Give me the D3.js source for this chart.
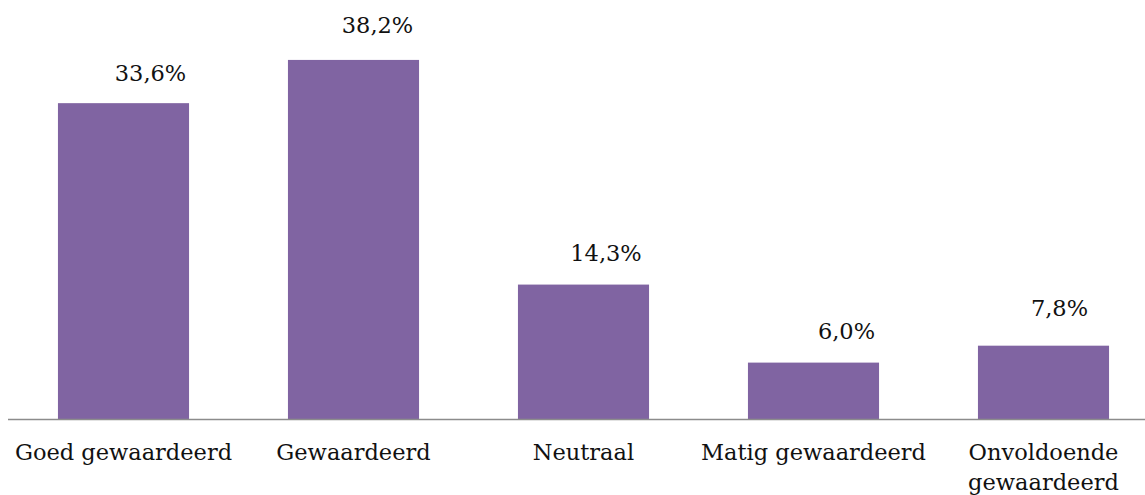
<!DOCTYPE html>
<html>
<head>
<meta charset="utf-8">
<script src="https://cdn.jsdelivr.net/npm/d3@7/dist/d3.min.js"></script>
<style>
  html, body { margin: 0; padding: 0; background: #fff; }
  svg { display: block; }
  text { font-family: Georgia, "DejaVu Serif", "Liberation Serif", serif; fill: #111; }
</style>
</head>
<body>
<svg id="chart" width="1145" height="495"></svg>
<script>
// ---- data ----
const categories = ["Goed gewaardeerd", "Gewaardeerd", "Neutraal", "Matig gewaardeerd", "Onvoldoende gewaardeerd"];
const values = [33.6, 38.2, 14.3, 6.0, 7.8];
const valueLabels = ["33,6%", "38,2%", "14,3%", "6,0%", "7,8%"];

// ---- layout ----
const W = 1145, H = 495;
const baseline = 419, plotTop = 43;
const fontSize = 22.5;
const barColor = "#8064A2";
// manual label nudges as seen in the reference (px)
const labelDx = [27, 24, 22.5, 33, 16];
const labelDy = [-22, -27, -24, -24, -30];

const svg = d3.select("#chart");

const x = d3.scaleBand()
  .domain(categories)
  .range([8.5, 1158.5])
  .paddingInner(0.43)
  .paddingOuter(0.215);

const y = d3.scaleLinear()
  .domain([0, 40])
  .range([baseline, plotTop]);

// bars
svg.append("g")
  .selectAll("rect")
  .data(categories)
  .join("rect")
  .attr("x", d => x(d))
  .attr("y", (d, i) => y(values[i]))
  .attr("width", x.bandwidth())
  .attr("height", (d, i) => y(0) - y(values[i]))
  .attr("fill", barColor);

// axis line
const axis = d3.axisBottom(x).tickSize(0).tickFormat("");
const ag = svg.append("g")
  .attr("transform", `translate(0,${baseline})`)
  .call(axis);
ag.select(".domain")
  .attr("d", `M8,0.5H1145`)
  .attr("stroke", "#8c8c8c")
  .attr("stroke-width", 1.3);

// value labels
svg.append("g")
  .selectAll("text")
  .data(categories)
  .join("text")
  .attr("x", (d, i) => x(d) + x.bandwidth() / 2 + labelDx[i])
  .attr("y", (d, i) => y(values[i]) + labelDy[i])
  .attr("text-anchor", "middle")
  .attr("font-size", fontSize)
  .text((d, i) => valueLabels[i]);

// category labels (wrap if wider than the band step)
const cg = svg.append("g");
categories.forEach(c => {
  const t = cg.append("text")
    .attr("x", x(c) + x.bandwidth() / 2)
    .attr("y", 460)
    .attr("text-anchor", "middle")
    .attr("font-size", fontSize)
    .text(c);
  if (t.node().getComputedTextLength() > x.step()) {
    const words = c.split(" ");
    t.text(null);
    words.forEach((w, k) => {
      t.append("tspan")
        .attr("x", x(c) + x.bandwidth() / 2)
        .attr("dy", k === 0 ? 0 : 30)
        .text(w);
    });
  }
});
</script>
</body>
</html>
